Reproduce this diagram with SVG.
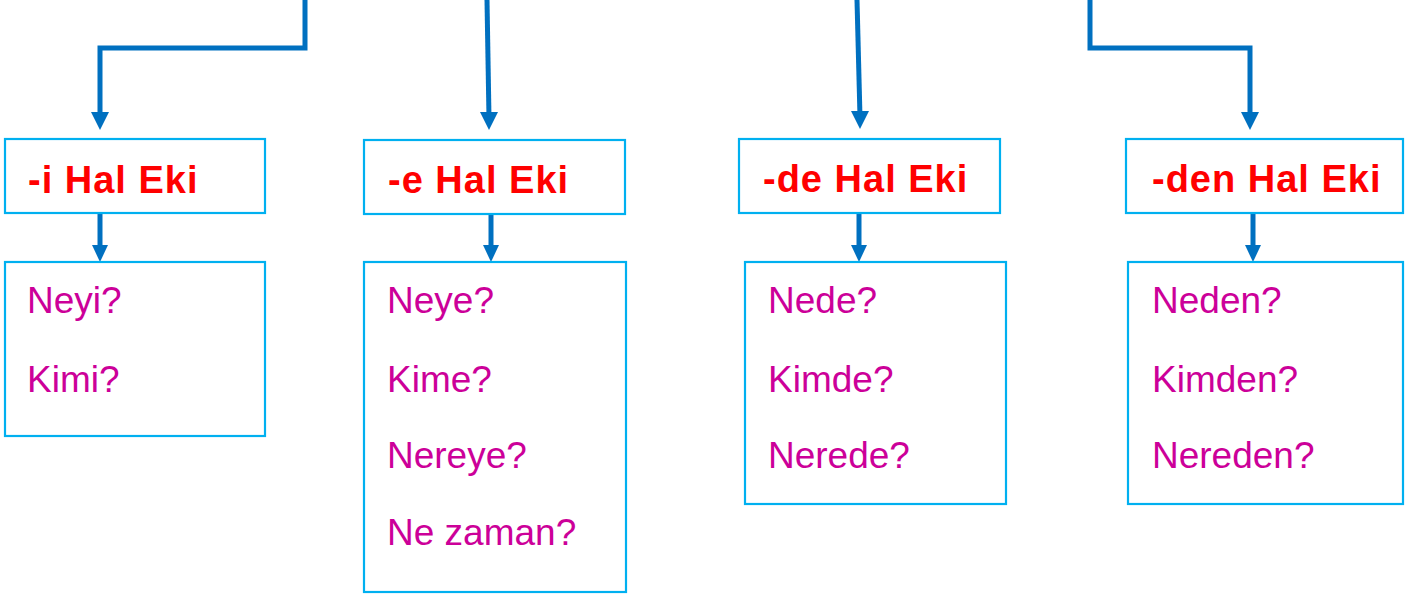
<svg xmlns="http://www.w3.org/2000/svg" width="1420" height="597" viewBox="0 0 1420 597">
<style>
.box{fill:#fff;stroke:#00B0F0;stroke-width:2.2}
.conn{fill:none;stroke:#0070C0;stroke-width:5;stroke-linejoin:miter}
.head{fill:#0070C0}
.hd{font-family:"Liberation Sans","DejaVu Sans",sans-serif;font-weight:bold;font-size:38px;letter-spacing:1px;fill:#FF0000}
.q{font-family:"Liberation Sans","DejaVu Sans",sans-serif;font-size:37px;fill:#CC0099}
</style>
<rect width="1420" height="597" fill="#fff"/>
<g id="connectors">
<path class="conn" d="M305,0 V48 H100 V118"/>
<polygon class="head" points="91,112 109,112 100,130"/>
<path class="conn" d="M487,0 L489,118"/>
<polygon class="head" points="480,112 498,112 489,130"/>
<path class="conn" d="M857,0 L860,117"/>
<polygon class="head" points="851,111 869,111 860,129"/>
<path class="conn" d="M1090,0 V48 H1250 V118"/>
<polygon class="head" points="1241,112 1259,112 1250,130"/>
<path class="conn" d="M100,214 V250"/>
<polygon class="head" points="92,245 108,245 100,262"/>
<path class="conn" d="M491,214 V250"/>
<polygon class="head" points="483,245 499,245 491,262"/>
<path class="conn" d="M859,213 V250"/>
<polygon class="head" points="851,245 867,245 859,262"/>
<path class="conn" d="M1253,213 V250"/>
<polygon class="head" points="1245,245 1261,245 1253,262"/>
</g>
<g id="node-i">
<rect class="box" x="5" y="139" width="260" height="74"/>
<text class="hd" x="28" y="193">-i Hal Eki</text>
</g>
<g id="node-i-q">
<rect class="box" x="5" y="262" width="260" height="174"/>
<text class="q" x="27" y="313">Neyi?</text>
<text class="q" x="27" y="392">Kimi?</text>
</g>
<g id="node-e">
<rect class="box" x="364" y="140" width="261" height="74"/>
<text class="hd" x="388" y="193">-e Hal Eki</text>
</g>
<g id="node-e-q">
<rect class="box" x="364" y="262" width="262" height="330"/>
<text class="q" x="387" y="313">Neye?</text>
<text class="q" x="387" y="392">Kime?</text>
<text class="q" x="387" y="468">Nereye?</text>
<text class="q" x="387" y="545">Ne zaman?</text>
</g>
<g id="node-de">
<rect class="box" x="739" y="139" width="261" height="74"/>
<text class="hd" x="763" y="192">-de Hal Eki</text>
</g>
<g id="node-de-q">
<rect class="box" x="745" y="262" width="261" height="242"/>
<text class="q" x="768" y="313">Nede?</text>
<text class="q" x="768" y="392">Kimde?</text>
<text class="q" x="768" y="468">Nerede?</text>
</g>
<g id="node-den">
<rect class="box" x="1126" y="139" width="277" height="74"/>
<text class="hd" x="1152" y="192">-den Hal Eki</text>
</g>
<g id="node-den-q">
<rect class="box" x="1128" y="262" width="275" height="242"/>
<text class="q" x="1152" y="313">Neden?</text>
<text class="q" x="1152" y="392">Kimden?</text>
<text class="q" x="1152" y="468">Nereden?</text>
</g>
</svg>
